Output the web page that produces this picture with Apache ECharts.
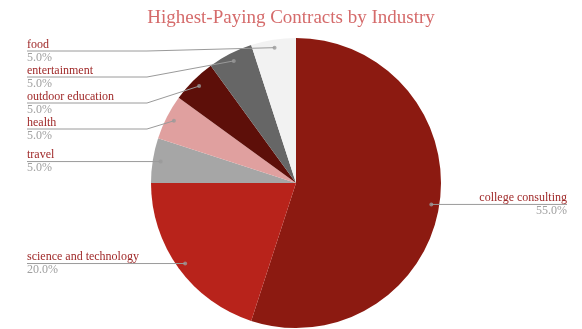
<!DOCTYPE html>
<html>
<head>
<meta charset="utf-8">
<script src="https://cdn.jsdelivr.net/npm/echarts@6/dist/echarts.min.js"></script>
<style>
  html, body { margin: 0; padding: 0; background: #ffffff; }
  #chart { width: 582px; height: 329px; }
</style>
</head>
<body>
<div id="chart"></div>
<script>
// Contract share by industry, clockwise from 12 o'clock
const industries = ['college consulting', 'science and technology', 'travel', 'health', 'outdoor education', 'entertainment', 'food'];
const shares = [55, 20, 5, 5, 5, 5, 5];
const sliceColors = ['#8c1a11', '#b8231b', '#a6a6a6', '#e0a09f', '#5d0f09', '#666666', '#f2f2f2'];

const FONT = '"Liberation Serif", "DejaVu Serif", serif';
const NAME_COLOR = '#a02a2a';
const PCT_COLOR = '#a0a0a0';
const LINE_COLOR = '#9a9a9a';

const chart = echarts.init(document.getElementById('chart'), null, { renderer: 'canvas' });
const W = chart.getWidth();
const CX = 296, CY = 183, R = 145;
const DOT_R = 0.945;          // where guide lines start, as a fraction of the radius
const ROW = 26;               // vertical room for one two-line label
const EDGE_L = 27, EDGE_R = 15;

const total = shares.reduce((a, b) => a + b, 0);
const cum = [];
shares.reduce((acc, v, i) => { cum[i] = acc; return acc + v; }, 0);
const midShare = shares.map((v, i) => cum[i] + v / 2);

// guide-line anchor on each slice
const anchors = midShare.map(m => {
  const a = m / total * Math.PI * 2;
  return [CX + DOT_R * R * Math.sin(a), CY - DOT_R * R * Math.cos(a), Math.sin(a) < 0];
});

// label rows: pushed downward so that stacked labels do not overlap
const rowY = new Array(shares.length);
[true, false].forEach(left => {
  const idx = anchors.map((p, i) => i).filter(i => anchors[i][2] === left)
    .sort((a, b) => anchors[a][1] - anchors[b][1]);
  let prev = CY - R + 13 - ROW;
  idx.forEach(i => {
    const y = Math.max(anchors[i][1], prev + ROW);
    rowY[i] = y;
    prev = y;
  });
});

const pieData = industries.map((n, i) => ({ name: n, value: shares[i], itemStyle: { color: sliceColors[i] } }));
const labelData = industries.map((n, i) => ({ name: n, value: shares[i] }));
const dotData = midShare.map(m => [DOT_R, m]);

const pieBase = { type: 'pie', center: [CX, CY], radius: R, startAngle: 90, clockwise: true, emphasis: { disabled: true } };

chart.setOption({
  animation: false,
  backgroundColor: '#ffffff',
  title: {
    text: 'Highest-Paying Contracts by Industry',
    left: 'center',
    top: 4,
    textStyle: { fontFamily: FONT, fontSize: 19, fontWeight: 'normal', color: '#d56b6b' }
  },
  polar: { center: [CX, CY], radius: R },
  angleAxis: { type: 'value', min: 0, max: total, startAngle: 90, clockwise: true, show: false },
  radiusAxis: { type: 'value', min: 0, max: 1, show: false },
  series: [
    // filled slices
    Object.assign({}, pieBase, {
      z: 2,
      data: pieData,
      itemStyle: { borderWidth: 0 },
      label: { show: false },
      labelLine: { show: false }
    }),
    // transparent copy on top that carries labels and guide lines
    Object.assign({}, pieBase, {
      z: 3,
      silent: true,
      data: labelData,
      itemStyle: { color: 'rgba(0,0,0,0)', borderWidth: 0 },
      label: {
        show: true,
        position: 'outside',
        formatter: p => '{n|' + p.name + '}\n{p|' + (p.value / total * 100).toFixed(1) + '%}',
        rich: {
          n: { fontFamily: FONT, fontSize: 12, lineHeight: 13, color: NAME_COLOR },
          p: { fontFamily: FONT, fontSize: 12, lineHeight: 13, color: PCT_COLOR }
        }
      },
      labelLine: { show: true, length: 5, length2: 5, lineStyle: { color: LINE_COLOR, width: 1 } },
      labelLayout: params => {
        const i = params.dataIndex;
        const [dx, dy, left] = anchors[i];
        const y = rowY[i];
        const endX = left ? EDGE_L : W - EDGE_R;
        const bendX = left ? Math.min(dx, CX - R - 4) : Math.max(dx, CX + R + 4);
        return {
          x: endX,
          y: y,
          align: left ? 'left' : 'right',
          verticalAlign: 'middle',
          labelLinePoints: [[dx, dy], [bendX, y], [endX, y]]
        };
      }
    }),
    {
      type: 'scatter',
      coordinateSystem: 'polar',
      data: dotData,
      symbol: 'circle',
      symbolSize: 4,
      itemStyle: { color: LINE_COLOR },
      silent: true,
      z: 5
    }
  ]
});
</script>
</body>
</html>
